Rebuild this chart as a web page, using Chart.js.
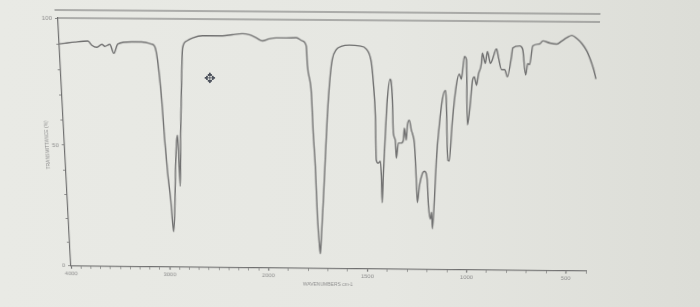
<!DOCTYPE html>
<html>
<head>
<meta charset="utf-8">
<script src="https://cdn.jsdelivr.net/npm/chart.js@4.4.1/dist/chart.umd.min.js"></script>
<style>
  html, body { margin: 0; padding: 0; }
  body {
    width: 700px; height: 307px; overflow: hidden; position: relative;
    background: linear-gradient(to right, #e9eae5 0%, #e6e7e2 55%, #dcddd7 100%);
  }
  #spectrum { position: absolute; left: 0; top: 0; }
  #cursor { position: absolute; left: 204px; top: 70px; font: 14px "DejaVu Sans"; color: #4b505a; }
</style>
</head>
<body>
<canvas id="spectrum" width="700" height="307"></canvas>
<span id="cursor">✥</span>
<script>
// IR spectrum (cm-1 and % transmittance)
const wavenumbers = [
    4000, 3945, 3848, 3721, 3686, 3638, 3588, 3560, 3511, 3476,
    3434, 3298, 3202, 3106, 3078, 3054, 3026, 3009, 2990, 2968,
    2949, 2932, 2909, 2891, 2880, 2870, 2850, 2827, 2808, 2768,
    2709, 2612, 2516, 2420, 2324, 2227, 2160, 2092, 2036, 1984,
    1950, 1902, 1854, 1825, 1806, 1801, 1782, 1773, 1763, 1753,
    1743, 1738, 1733, 1723, 1714, 1704, 1690, 1680, 1661, 1637,
    1598, 1550, 1516, 1492, 1481, 1469, 1462, 1452, 1442, 1436,
    1430, 1426, 1419, 1412, 1399, 1394, 1387, 1380, 1370, 1363,
    1355, 1340, 1330, 1327, 1316, 1312, 1303, 1292, 1287, 1276,
    1262, 1255, 1247, 1233, 1224, 1209, 1200, 1189, 1184, 1177,
    1171, 1166, 1156, 1144, 1130, 1125, 1109, 1102, 1093, 1078,
    1065, 1054, 1043, 1033, 1018, 1010, 1000, 992, 980, 972,
    960, 957, 941, 933, 916, 907, 890, 878, 862, 847,
    832, 816, 812, 779, 764, 744, 737, 727, 716, 683,
    669, 635, 601, 578, 554, 531, 506, 480, 455, 428,
    417, 404
];
const transmittance = [
    90, 90.3, 90.8, 91.2, 89.6, 88.8, 90, 89.2, 90, 86.5,
    90.1, 91, 91, 90.2, 89.4, 84, 68.5, 52.4, 39, 28.1,
    14.9, 22.9, 41.9, 52.4, 54.4, 33.7, 55.2, 75.4, 88.7, 91.5,
    92.7, 93.6, 93.6, 93.6, 94.1, 94.5, 94.1, 92.9, 91.8, 92.6,
    93, 93, 93.1, 91.9, 89.9, 82.6, 71.7, 55.7, 42.4, 22.3,
    10.2, 6.2, 12.6, 28.7, 44.8, 62.5, 78.6, 85, 88.7, 89.9,
    90.4, 90.1, 88.9, 84, 76, 62.7, 45, 43.8, 44.6, 38.6,
    27.7, 39.8, 55.9, 69.2, 77.3, 76.1, 69.2, 56, 53.2, 45.9,
    52, 52, 53.2, 58, 53.2, 59.2, 61.2, 57.2, 56, 52,
    35.9, 27.9, 34.7, 39.9, 40.7, 37.1, 26.7, 21.1, 23.9, 17.1,
    29.2, 45.3, 59, 69.5, 73.1, 69.5, 45.2, 45, 60.2, 75.1,
    79.5, 77.5, 86.4, 85.2, 59.5, 65.1, 77.2, 78.4, 75.2, 79.7,
    83.7, 87.7, 83.7, 88.4, 83.7, 85.4, 89.4, 85.8, 81.4, 81.4,
    78.6, 86.6, 89.8, 90.6, 89.4, 79.4, 83.8, 83.4, 90.6, 91.4,
    92.6, 91.8, 91.4, 92.6, 93.9, 94.8, 93.6, 91.6, 88.8, 84,
    81.6, 78
];
const xTickLabels = [4000, 3000, 2000, 1500, 1000, 500];
const yTickLabels = [0, 50, 100];
const wnStart = 4000;
const wnEnd = 400;

// where the plot frame sits in the photo: TL, TR, BR, BL
const photoCorners = [58, 18, 600, 22, 586, 271, 71, 266];

const lineColor = '#707070';
const textColor = '#8c8c8c';

// the chart paper changes scale at 2000 cm-1 (1000 per unit above, 500 per unit below)
function pos(wn) {
    return wn >= 2000 ? (4000 - wn) / 1000 : 2 + (2000 - wn) / 500;
}
function wnAt(p) {
    return p <= 2 ? 4000 - 1000 * p : 2000 - 500 * (p - 2);
}

const points = wavenumbers.map((w, i) => ({ x: pos(w), y: transmittance[i] }));

const tickWns = [];
for (let w = wnStart; w >= wnEnd; w -= 100) tickWns.push(w);

const framePlugin = {
    id: 'frame',
    afterDraw(chart) {
        const { ctx, chartArea: a } = chart;
        ctx.save();
        ctx.strokeStyle = lineColor;
        ctx.lineWidth = 1.2;
        ctx.beginPath();
        ctx.moveTo(a.left - 3, a.top - 8);
        ctx.lineTo(a.right, a.top - 8);
        ctx.moveTo(a.left, a.top);
        ctx.lineTo(a.right, a.top);
        ctx.stroke();
        // y axis title sits close to the "50" label
        ctx.fillStyle = textColor;
        ctx.font = '5px "Liberation Sans"';
        ctx.textAlign = 'center';
        ctx.textBaseline = 'middle';
        ctx.translate(a.left - 17, (a.top + a.bottom) / 2);
        ctx.rotate(-Math.PI / 2);
        ctx.fillText('TRANSMITTANCE (%)', 0, 0);
        ctx.restore();
    }
};

const canvas = document.getElementById('spectrum');
const chart = new Chart(canvas.getContext('2d'), {
    type: 'line',
    data: {
        datasets: [{
            data: points,
            borderColor: lineColor,
            borderWidth: 1.4,
            pointRadius: 0,
            fill: false,
            cubicInterpolationMode: 'monotone'
        }]
    },
    options: {
        responsive: false,
        animation: false,
        layout: { padding: { left: 46, right: 104, top: 16, bottom: 8 } },
        plugins: {
            legend: { display: false },
            tooltip: { enabled: false }
        },
        scales: {
            x: {
                type: 'linear',
                min: pos(wnStart),
                max: pos(wnEnd),
                afterBuildTicks: axis => {
                    axis.ticks = tickWns.map(w => ({ value: pos(w) }));
                },
                ticks: {
                    autoSkip: false,
                    maxRotation: 0,
                    padding: 2,
                    color: textColor,
                    font: { family: 'Liberation Sans', size: 6 },
                    callback: value => {
                        const w = Math.round(wnAt(value));
                        return xTickLabels.includes(w) ? String(w) : '';
                    }
                },
                grid: {
                    drawOnChartArea: false,
                    tickLength: 3,
                    tickColor: lineColor,
                    tickWidth: c => xTickLabels.includes(Math.round(wnAt(c.tick.value))) ? 1.2 : 0.7
                },
                border: { color: lineColor, width: 1.2 },
                title: {
                    display: true,
                    text: 'WAVENUMBERS cm-1',
                    color: textColor,
                    font: { family: 'Liberation Sans', size: 5 },
                    padding: { top: 1, bottom: 0 }
                }
            },
            y: {
                min: 0,
                max: 100,
                ticks: {
                    stepSize: 10,
                    padding: 3,
                    color: textColor,
                    font: { family: 'Liberation Sans', size: 6 },
                    callback: value => yTickLabels.includes(value) ? String(value) : ''
                },
                grid: {
                    drawOnChartArea: false,
                    tickLength: 3,
                    tickColor: lineColor,
                    tickWidth: 0.8
                },
                border: { color: lineColor, width: 1.2 }
            }
        }
    },
    plugins: [framePlugin]
});

// bend the flat chart onto the photo's slanted frame
function squareToQuad(q) {
    const [x0, y0, x1, y1, x2, y2, x3, y3] = q;
    const dx1 = x1 - x2, dx2 = x3 - x2, dx3 = x0 - x1 + x2 - x3;
    const dy1 = y1 - y2, dy2 = y3 - y2, dy3 = y0 - y1 + y2 - y3;
    const den = dx1 * dy2 - dx2 * dy1;
    const g = (dx3 * dy2 - dx2 * dy3) / den;
    const h = (dx1 * dy3 - dx3 * dy1) / den;
    return {
        a: x1 - x0 + g * x1, b: x3 - x0 + h * x3, c: x0,
        d: y1 - y0 + g * y1, e: y3 - y0 + h * y3, f: y0,
        g: g, h: h
    };
}

const area = chart.chartArea;
const m = squareToQuad(photoCorners);
const w = area.right - area.left;
const hh = area.bottom - area.top;
const A = m.a / w, B = m.b / hh, C = m.c - m.a * area.left / w - m.b * area.top / hh;
const D = m.d / w, E = m.e / hh, F = m.f - m.d * area.left / w - m.e * area.top / hh;
const G = m.g / w, H = m.h / hh, I = 1 - m.g * area.left / w - m.h * area.top / hh;
canvas.style.transformOrigin = '0 0';
canvas.style.transform = 'matrix3d(' + [A, D, 0, G, B, E, 0, H, 0, 0, 1, 0, C, F, 0, I].join(',') + ')';
</script>
</body>
</html>
